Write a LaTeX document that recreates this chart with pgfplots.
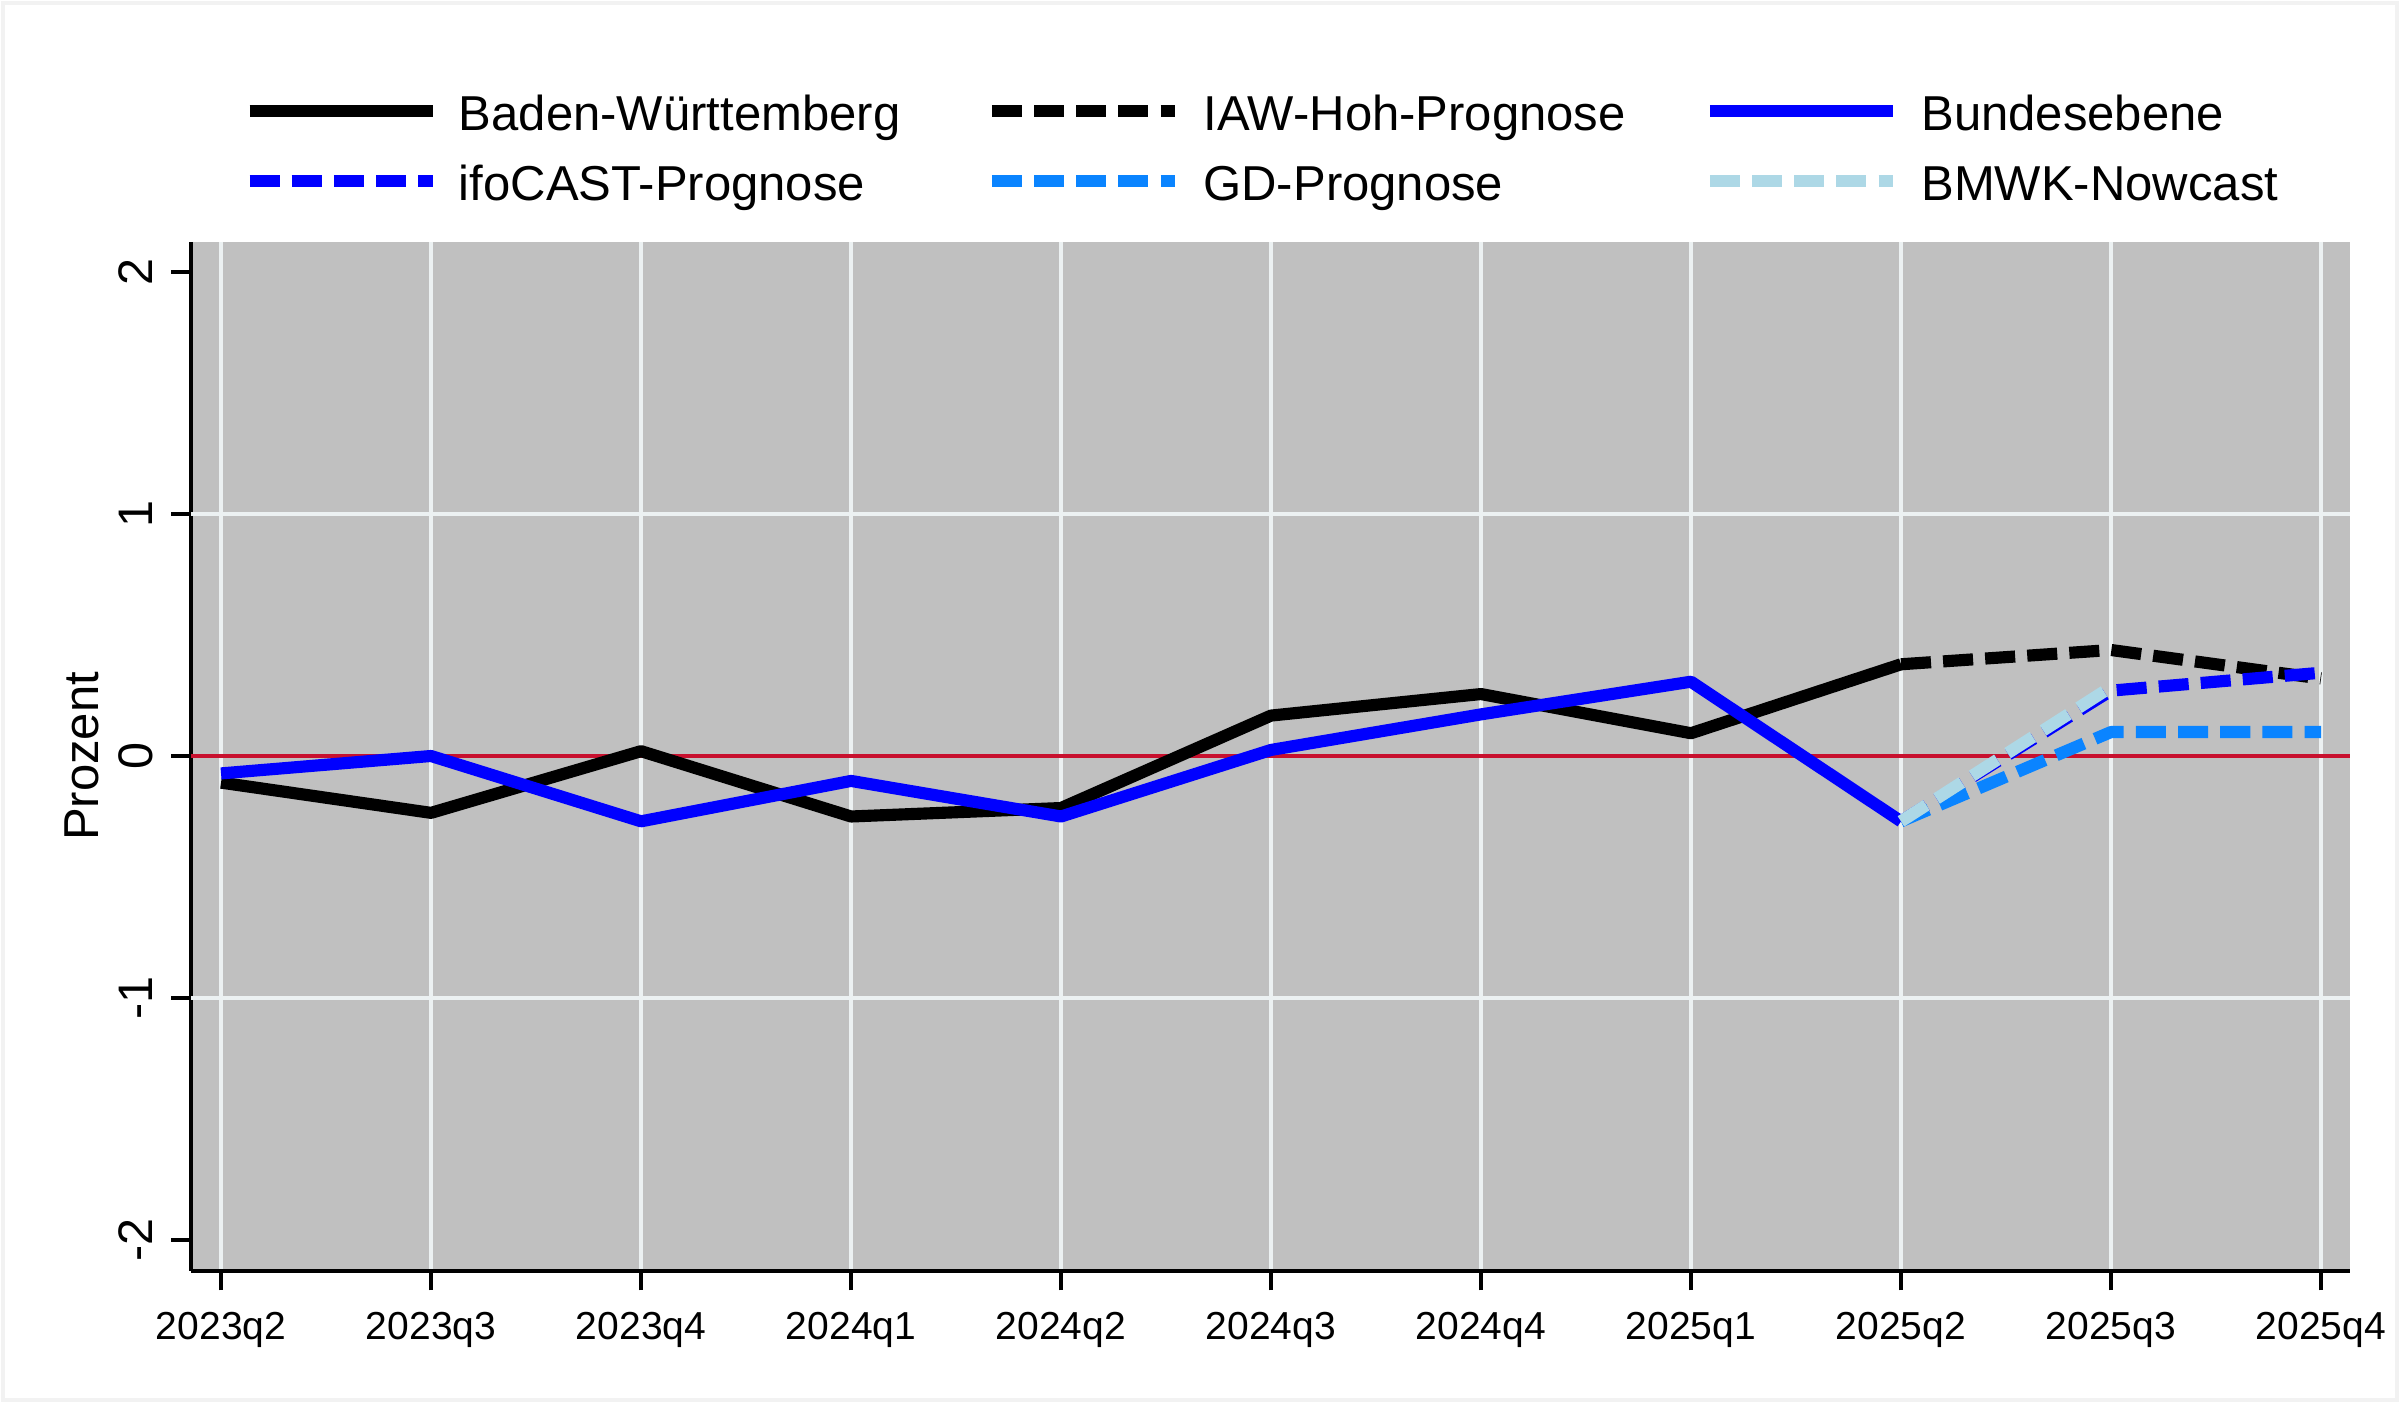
\documentclass[border=0pt]{standalone}
\usepackage{fontspec}
\setmainfont{Liberation Sans}
\usepackage{pgfplots}
\pgfplotsset{compat=1.18}

\definecolor{plotbg}{RGB}{192,192,192}
\definecolor{gridc}{RGB}{236,241,242}
\definecolor{nullred}{RGB}{200,16,46}
\definecolor{bund}{RGB}{0,0,255}
\definecolor{gdblue}{RGB}{10,132,255}
\definecolor{bmwk}{RGB}{173,216,230}

\begin{document}
\begin{tikzpicture}
\useasboundingbox (0,0) rectangle (16cm,9.3533cm);
\draw[gray!10, line width=0.6pt] (0.02cm,0.02cm) rectangle (15.98cm,9.3333cm);
\begin{axis}[
  at={(1.2733cm,0.88cm)}, anchor=south west,
  scale only axis, width=14.393cm, height=6.86cm,
  xmin=-0.143, xmax=10.138, ymin=-2.128, ymax=2.124,
  axis lines=left, axis line style={-, line width=0.6pt},
  axis background/.style={fill=plotbg},
  xtick={0,...,10},
  xticklabels={2023q2,2023q3,2023q4,2024q1,2024q2,2024q3,2024q4,2025q1,2025q2,2025q3,2025q4},
  ytick={-2,-1,0,1,2},
  yticklabels={-2,-1,0,1,2},
  /pgf/number format/assume math mode=true,
  tick align=outside, major tick length=0.13cm,
  tick style={line width=0.6pt, black},
  xmajorgrids, grid style={gridc, line width=0.8pt},
  extra y ticks={-1,1}, extra y tick labels={},
  extra y tick style={grid=major},
  xticklabel style={font=\fontsize{7.4}{9}\selectfont, yshift=-0.02cm},
  yticklabel style={font=\fontsize{9.2}{11}\selectfont, rotate=90, anchor=south},
  ylabel={Prozent},
  ylabel style={at={(axis description cs:-0.0505,0.5)}, anchor=center,
    font=\fontsize{9.3}{11}\selectfont},
  every axis plot/.append style={line width=2.3pt, line join=round},
  legend columns=3,
  legend cell align=left,
  legend image code/.code={\draw[#1, line cap=butt] (0cm,0cm) -- (1.22cm,0cm);},
  legend style={at={(axis description cs:0.0243,1.1456)}, anchor=north west,
    draw=none, fill=none, inner sep=0pt, outer sep=0pt, row sep=0.213cm,
    font=\fontsize{9.3}{11}\selectfont,
    nodes={inner sep=0pt, text height=0.72em, text depth=0pt},
    /tikz/column 1/.style={column sep=0.135cm},
    /tikz/column 2/.style={column sep=0.57cm},
    /tikz/column 3/.style={column sep=0.15cm},
    /tikz/column 4/.style={column sep=0.52cm},
    /tikz/column 5/.style={column sep=0.15cm}},
]
\draw[nullred, line width=0.75pt] ({rel axis cs:0,0}|-{axis cs:0,0}) -- ({rel axis cs:1,0}|-{axis cs:0,0});

% Baden-Wuerttemberg
\addplot[black] coordinates {(0,-0.11) (1,-0.235) (2,0.02) (3,-0.25) (4,-0.215) (5,0.167) (6,0.256) (7,0.094) (8,0.379)};
% IAW-Hoh-Prognose
\addplot[black, dash pattern=on 5.7pt off 2.3pt] coordinates {(8,0.379) (9,0.438) (10,0.32)};
% Bundesebene
\addplot[bund] coordinates {(0,-0.072) (1,0.0) (2,-0.27) (3,-0.103) (4,-0.25) (5,0.025) (6,0.172) (7,0.307) (8,-0.27)};
% ifoCAST
\addplot[bund, dash pattern=on 5.7pt off 2.3pt] coordinates {(8,-0.27) (9,0.27) (10,0.344)};
% GD
\addplot[gdblue, dash pattern=on 5.7pt off 2.3pt] coordinates {(8,-0.27) (9,0.099) (10,0.099)};
% BMWK
\addplot[bmwk, dash pattern=on 5.7pt off 2.3pt] coordinates {(8,-0.27) (9,0.285)};

\legend{Baden-Württemberg, IAW-Hoh-Prognose, Bundesebene, ifoCAST-Prognose, GD-Prognose, BMWK-Nowcast}
\end{axis}
\end{tikzpicture}
\end{document}
